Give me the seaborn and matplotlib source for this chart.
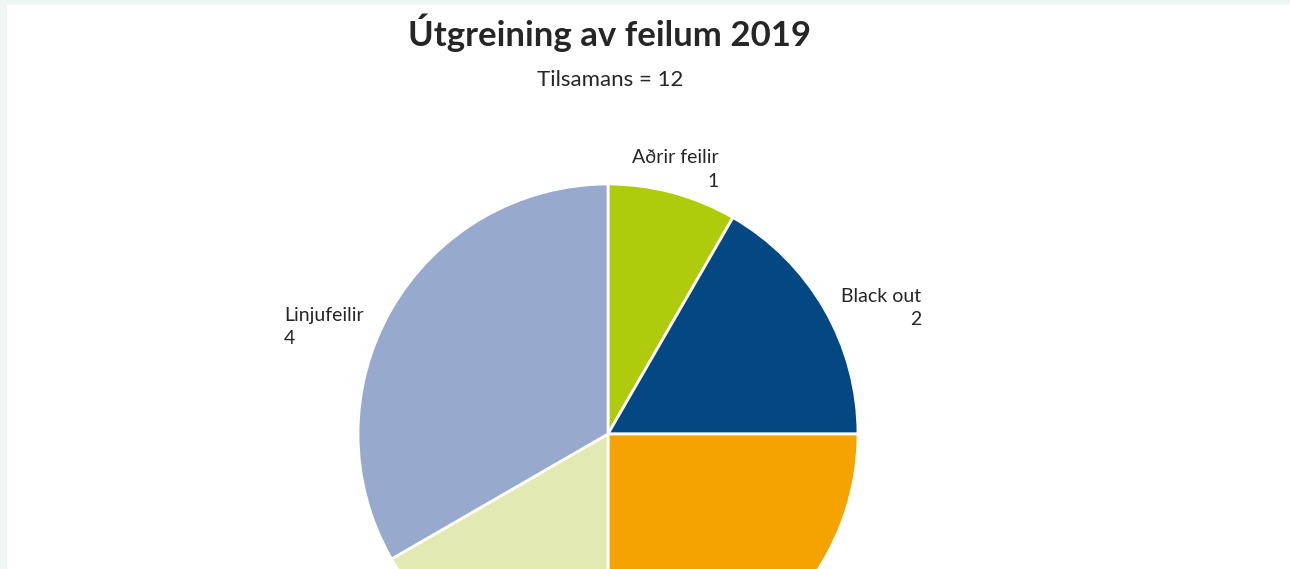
"""
Pie chart of fault breakdown for 2019 (cropped at the bottom like the original).
"""

import seaborn as sns
from matplotlib import pyplot as plt
from matplotlib.patches import Rectangle

categories = ["Aðrir feilir", "Black out", "Annað", "Annað 2", "Linjufeilir"]
values = [1, 2, 3, 2, 4]
colors = ["#B0CB0B", "#034883", "#F5A300", "#E2E9B3", "#97A9CD"]
title = "Útgreining av feilum 2019"
subtitle = "Tilsamans = " + str(sum(values))

if __name__ == "__main__":
    sns.set_theme(style="white")
    plt.rcParams["font.family"] = ["Lato", "DejaVu Sans"]
    text_color = "#262626"

    fig = plt.figure(figsize=(12.9, 5.69), dpi=100)
    fig.patch.set_facecolor("#EEF5F3")
    # white panel with a thin tinted border on top and left
    fig.patches.append(
        Rectangle((7 / 1290, 0), 1, 564 / 569, transform=fig.transFigure,
                  facecolor="white", edgecolor="none", zorder=-1)
    )

    # pie centre at (608, 434) px, radius 250 px
    ax = fig.add_axes([(608 - 250) / 1290, (135 - 250) / 569, 500 / 1290, 500 / 569])
    ax.set_zorder(1)
    ax.pie(
        values,
        colors=colors,
        startangle=90,
        counterclock=False,
        radius=1,
        wedgeprops=dict(edgecolor="white", linewidth=2),
    )
    ax.set_xlim(-1, 1)
    ax.set_ylim(-1, 1)
    ax.set_aspect("equal")
    ax.axis("off")

    lab = dict(fontsize=14, fontweight="normal", color=text_color,
               linespacing=1.45, clip_on=False, va="center")
    # data labels for visible slices
    ax.text(0.444, 1.058, f"{categories[0]}\n{values[0]}", ha="right",
            multialignment="right", **lab)
    ax.text(1.252, 0.504, f"{categories[1]}\n{values[1]}", ha="right",
            multialignment="right", **lab)
    ax.text(-1.296, 0.428, f"{categories[4]}\n{values[4]}", ha="left",
            multialignment="left", **lab)

    fig.text(610 / 1290, 1 - 33 / 569, title, ha="center", va="center",
             fontsize=25, fontweight="bold", color=text_color)
    fig.text(610 / 1290, 1 - 80 / 569, subtitle, ha="center", va="center",
             fontsize=16, fontweight="normal", color=text_color)

    plt.savefig("out.png", dpi=100, facecolor=fig.get_facecolor())
    plt.close()
